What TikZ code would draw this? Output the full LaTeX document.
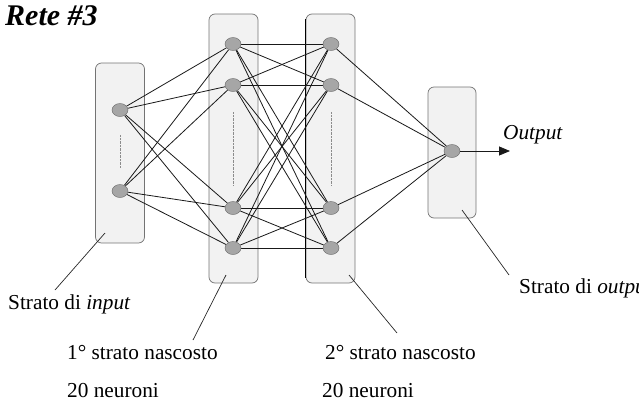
\documentclass[tikz,border=0pt]{standalone}
\usepackage{fontspec}
\setmainfont{Liberation Serif}
\usetikzlibrary{arrows.meta,shapes.geometric,backgrounds}

\begin{document}
\begin{tikzpicture}[x=1pt,y=-1pt,
  layer/.style={draw=black!55,fill=black!5,rounded corners=6pt,minimum width=49pt,line width=0.7pt,inner sep=0pt},
  neuron/.style={ellipse,draw=black!60,fill=black!35,minimum width=16pt,minimum height=13pt,inner sep=0pt},
  wire/.style={draw=black!90,line width=0.8pt},
  lead/.style={draw=black!85,line width=0.7pt},
  lab/.style={font=\fontsize{21.3}{24}\selectfont,inner sep=0pt,anchor=base west}]
\useasboundingbox (0,0) rectangle (639,410);
% layers
\begin{scope}[on background layer]
\node[layer,minimum height=180pt] (inbox) at (120,153) {};
\node[layer,minimum height=269pt] (h1box) at (233.5,148.5) {};
\node[layer,minimum height=269pt] (h2box) at (330.5,148.5) {};
\node[layer,minimum height=131pt,minimum width=48pt] (outbox) at (452,152.5) {};
\draw[black,line width=1pt] ([yshift=-5pt]h2box.north west) -- ([yshift=5pt]h2box.south west);
\draw[black!45,densely dotted,line width=0.4pt] (120,135) -- (120,168);
\draw[black!45,densely dotted,line width=0.4pt] (233,112) -- (233,185);
\draw[black!45,densely dotted,line width=0.4pt] (331,112) -- (331,185);
\end{scope}
% neurons
\foreach \y [count=\i] in {110,191} \node[neuron] (i\i) at (120,\y) {};
\foreach \y [count=\i] in {44,85,208,248} {
  \node[neuron] (a\i) at (233,\y) {};
  \node[neuron] (b\i) at (331,\y) {};
}
\node[neuron] (o) at (452,151) {};
% connections
\begin{scope}[on background layer]
\foreach \i in {1,2} \foreach \j in {1,...,4} \draw[wire] (i\i) -- (a\j);
\foreach \i in {1,...,4} \foreach \j in {1,...,4} \draw[wire] (a\i) -- (b\j);
\foreach \i in {1,...,4} \draw[wire] (b\i) -- (o);
\end{scope}
\coordinate (out) at (510,151);
\draw[wire,-{Triangle[length=11pt,width=9pt]}] (o) -- (out);
\node[lab,font=\fontsize{21.3}{24}\selectfont\itshape] (outlab) at (503,139) {Output};
% title
\node[inner sep=0pt,anchor=base west,font=\fontsize{30}{32}\selectfont\bfseries\itshape] (title) at (5,25) {Rete \#3};
% labels
\node[lab] (inlab) at (8,309) {Strato di \textit{input}};
\node[lab] (h1lab) at (67,359) {1° strato nascosto};
\node[lab] (h1num) at (67,397) {20 neuroni};
\node[lab] (h2lab) at (325,359) {2° strato nascosto};
\node[lab] (h2num) at (322,397) {20 neuroni};
\node[lab] (olab) at (519,293) {Strato di \textit{output}};
\coordinate (p1) at (105,233); \coordinate (q1) at (55,290);
\coordinate (p2) at (226,275); \coordinate (q2) at (193,340);
\coordinate (p3) at (349,275); \coordinate (q3) at (397,333);
\coordinate (p4) at (462,210); \coordinate (q4) at (509,275);
\draw[lead] (p1) -- (q1);
\draw[lead] (p2) -- (q2);
\draw[lead] (p3) -- (q3);
\draw[lead] (p4) -- (q4);
\end{tikzpicture}
\end{document}
